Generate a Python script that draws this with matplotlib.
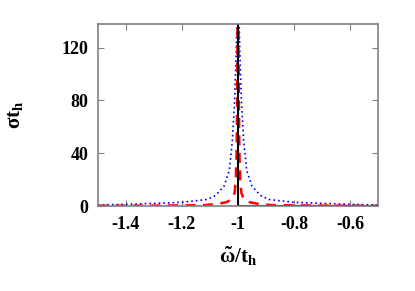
import numpy as np
import matplotlib
matplotlib.use('Agg')
import matplotlib.pyplot as plt

# offsets from the resonance at omega = -1 (symmetric profiles)
blue_dx = [0.5, 0.4, 0.3, 0.2, 0.15, 0.11, 0.08, 0.068, 0.05, 0.031, 0.02, 0.012, 0.006, 0.003]
blue_y = [0.8, 1.3, 2.0, 2.8, 4.0, 5.0, 8.0, 10.9, 15.0, 27.0, 50.0, 80.0, 120.0, 150.0]

red_dx = [0.5, 0.3, 0.2, 0.12, 0.075, 0.04, 0.02, 0.012, 0.008, 0.005, 0.003, 0.002, 0.0015]
red_y = [0.2, 0.3, 0.5, 0.7, 1.5, 3.0, 5.5, 10.0, 20.0, 40.0, 80.0, 120.0, 150.0]

black_x = [-1.0, -1.0, -0.5]
black_y = [150.0, 0.0, 0.0]

center = -1.0
xticks = [-1.4, -1.2, -1.0, -0.8, -0.6]
xtick_labels = ['-1.4', '-1.2', '-1', '-0.8', '-0.6']
yticks = [0, 40, 80, 120]


def mirror(dx, y):
    dx = np.array(dx)
    y = np.array(y)
    x = np.concatenate([center - dx, center + dx[::-1]])
    yy = np.concatenate([y, y[::-1]])
    return x, yy


plt.rcParams['font.family'] = 'Liberation Serif'
plt.rcParams['font.weight'] = 'bold'
plt.rcParams['mathtext.fontset'] = 'custom'
plt.rcParams['mathtext.rm'] = 'Liberation Serif:bold'
plt.rcParams['mathtext.it'] = 'Liberation Serif:bold'
plt.rcParams['mathtext.bf'] = 'Liberation Serif:bold'

fig = plt.figure(figsize=(4.15, 2.91), dpi=100)
ax = fig.add_axes([0.236, 0.292, 0.675, 0.626])

bx, by = mirror(blue_dx, blue_y)
rx, ry = mirror(red_dx, red_y)

ax.plot(bx, by, color='#0000ff', ls=(0, (1, 1.8)), lw=1.2)
ax.plot(rx, ry, color='#ff0000', ls=(0, (4, 3)), lw=1.8)
ax.plot(black_x, black_y, color='black', lw=1.5)

ax.set_xlim(-1.5, -0.5)
ax.set_ylim(0, 138)
ax.set_xticks(xticks)
ax.set_xticklabels(xtick_labels)
ax.set_yticks(yticks)
ax.tick_params(direction='in', top=True, right=True, length=4, color='#808080',
               labelsize=13, pad=7)
for s in ax.spines.values():
    s.set_color('#808080')
    s.set_linewidth(1.2)

ax.set_xlabel(r'$\tilde{\omega}/\mathrm{t_h}$', fontsize=15, labelpad=9)
ax.set_ylabel(r'$\sigma\mathrm{t_h}$', fontsize=15, labelpad=26)

fig.savefig('out.png', dpi=100)
